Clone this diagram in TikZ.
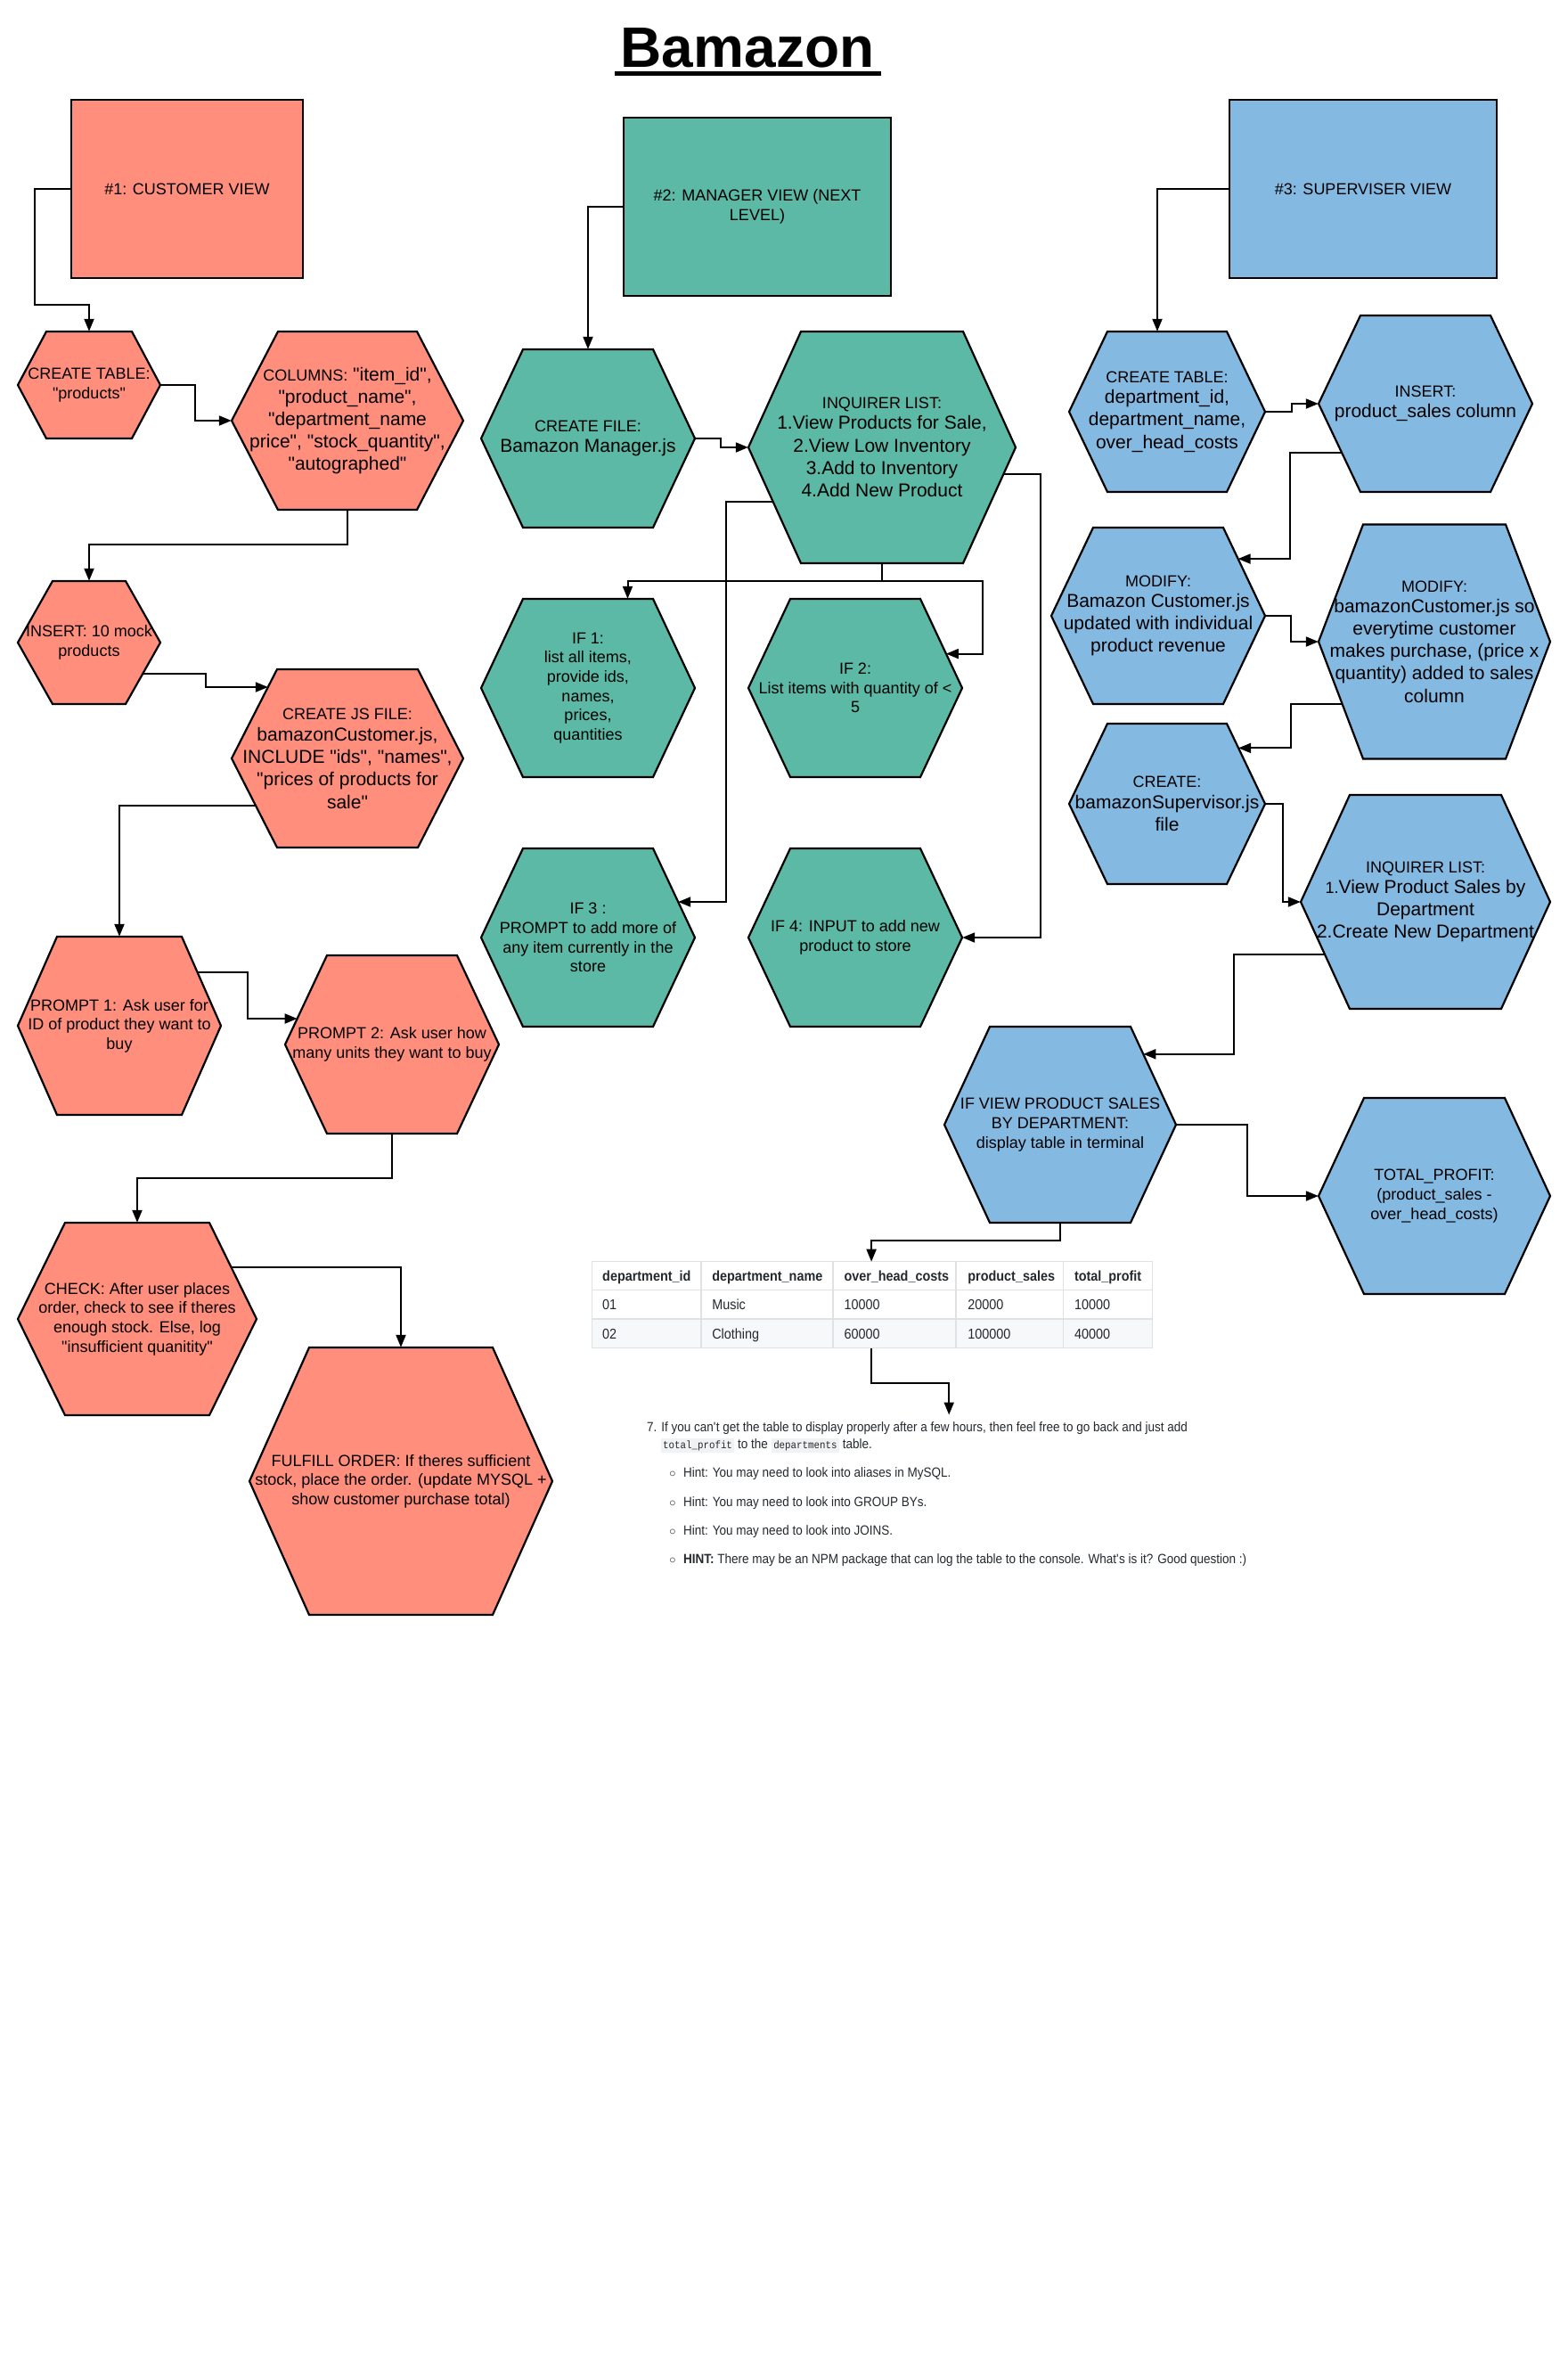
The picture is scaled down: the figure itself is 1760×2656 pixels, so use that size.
\documentclass[tikz,border=0pt]{standalone}
\usepackage{fontspec}
\setmainfont{Liberation Sans}[Ligatures=TeXOff]
\newfontfamily\ghfont[FakeStretch=0.9]{Liberation Sans}
\newfontfamily\ghmono[FakeStretch=0.9]{Liberation Mono}
\usetikzlibrary{arrows.meta,calc}

\definecolor{custred}{HTML}{FF8E7C}
\definecolor{mgrteal}{HTML}{5BB9A6}
\definecolor{supblue}{HTML}{84B9E2}
\definecolor{ghtext}{HTML}{24292E}
\definecolor{ghline}{HTML}{DFE2E5}
\definecolor{ghrow}{HTML}{F6F8FA}
\definecolor{ghcode}{HTML}{F1F2F3}

\newcommand\smtxt{\fontsize{18}{21.6}\selectfont}
\newcommand\codebit[1]{{\setlength\fboxsep{2.5pt}\colorbox{ghcode}{\ghmono\fontsize{12}{14}\selectfont #1}}}

% hexagon: name, centre x, centre y, width, height, inset, fill, font style, text
\newcommand\hexnode[9]{%
  \coordinate (#1-l)  at ({#2-#4/2},{#3});
  \coordinate (#1-r)  at ({#2+#4/2},{#3});
  \coordinate (#1-tl) at ({#2-#4/2+#6},{#3-#5/2});
  \coordinate (#1-tr) at ({#2+#4/2-#6},{#3-#5/2});
  \coordinate (#1-bl) at ({#2-#4/2+#6},{#3+#5/2});
  \coordinate (#1-br) at ({#2+#4/2-#6},{#3+#5/2});
  \filldraw[hexborder, fill=#7] (#1-l) -- (#1-tl) -- (#1-tr) -- (#1-r) -- (#1-br) -- (#1-bl) -- cycle;
  \node[hextext, #8, minimum width=#4pt, minimum height=#5pt] (#1) at (#2,#3) {#9};
}

\begin{document}
\begin{tikzpicture}[x=1pt, y=-1pt,
  hexborder/.style={draw=black, line width=2.2pt, line join=miter},
  hextext/.style={inner sep=0pt, align=center, text=black},
  txtS/.style={font=\fontsize{18}{21.6}\selectfont},
  txtL/.style={font=\fontsize{21}{25.2}\selectfont},
  viewbox/.style={draw=black, line width=2.2pt, inner sep=0pt, align=center,
    font=\fontsize{18}{21.6}\selectfont},
  arr/.style={line width=2pt, -{Triangle[length=14pt,width=11pt]}},
  grid/.style={draw=ghline, line width=1.5pt},
  cellhead/.style={inner sep=0pt, text=ghtext, font=\ghfont\fontsize{16}{19}\selectfont\bfseries},
  cell/.style={inner sep=0pt, text=ghtext, font=\ghfont\fontsize{16}{19}\selectfont},
  notetxt/.style={inner sep=0pt, text=ghtext, font=\ghfont\fontsize{15}{18}\selectfont},
]
\fill[white] (0,0) rectangle (1760,2656);
\useasboundingbox (0,0) rectangle (1760,2656);

% title
\node[inner sep=0pt, anchor=base, font=\fontsize{64}{70}\selectfont\bfseries] (title) at (839,75) {Bamazon};
\fill ($(title.base west)+(-7,5)$) rectangle ($(title.base east)+(8,10)$);

% the three views
\node[viewbox, fill=custred, minimum width=260pt, minimum height=200pt] (cust) at (210,212) {\#1: CUSTOMER VIEW};
\node[viewbox, fill=mgrteal, minimum width=300pt, minimum height=200pt] (mgr) at (850,232) {\#2: MANAGER VIEW (NEXT\\LEVEL)};
\node[viewbox, fill=supblue, minimum width=300pt, minimum height=200pt] (sup) at (1530,212) {\#3: SUPERVISER VIEW};

% customer column
\hexnode{ct1}{100}{432}{160}{120}{32}{custred}{txtS}{CREATE TABLE:\\"products"}
\hexnode{col}{390}{472}{260}{200}{52}{custred}{txtL}{{\smtxt COLUMNS:} "item\_id",\\"product\_name",\\"department\_name\\price", "stock\_quantity",\\"autographed"}
\hexnode{ins1}{100}{721}{160}{138}{39}{custred}{txtS}{INSERT: 10 mock\\products}
\hexnode{cjs}{390}{851}{260}{200}{51}{custred}{txtL}{{\smtxt CREATE JS FILE:}\\[-1pt]bamazonCustomer.js,\\INCLUDE "ids", "names",\\"prices of products for\\sale"}
\hexnode{p1}{134}{1151}{228}{200}{44}{custred}{txtS}{PROMPT 1: Ask user for\\ID of product they want to\\buy}
\hexnode{p2}{440}{1172}{240}{200}{47}{custred}{txtS}{PROMPT 2: Ask user how\\many units they want to buy}
\hexnode{chk}{154}{1480}{268}{216}{53}{custred}{txtS}{CHECK: After user places\\order, check to see if theres\\enough stock. Else, log\\"insufficient quanitity"}
\hexnode{ful}{450}{1662}{340}{300}{67}{custred}{txtS}{FULFILL ORDER: If theres sufficient\\stock, place the order. (update MYSQL +\\show customer purchase total)}

% manager column
\hexnode{cf}{660}{492}{240}{200}{47}{mgrteal}{txtL}{{\smtxt CREATE FILE:}\\[-2pt]Bamazon Manager.js}
\hexnode{inq}{990}{502}{300}{260}{59}{mgrteal}{txtL}{{\smtxt INQUIRER LIST:}\\[-2pt]1.View Products for Sale,\\2.View Low Inventory\\3.Add to Inventory\\4.Add New Product}
\hexnode{if1}{660}{772}{240}{200}{47}{mgrteal}{txtS}{IF 1:\\list all items,\\provide ids,\\names,\\prices,\\quantities}
\hexnode{if2}{960}{772}{240}{200}{47}{mgrteal}{txtS}{IF 2:\\List items with quantity of <\\5}
\hexnode{if3}{660}{1052}{240}{200}{47}{mgrteal}{txtS}{IF 3 :\\PROMPT to add more of\\any item currently in the\\store}
\hexnode{if4}{960}{1052}{240}{200}{47}{mgrteal}{txtS}{IF 4: INPUT to add new\\product to store}

% supervisor column
\hexnode{sct}{1310}{462}{220}{180}{43}{supblue}{txtL}{{\smtxt CREATE TABLE:}\\[-2pt]department\_id,\\department\_name,\\over\_head\_costs}
\hexnode{sins}{1600}{453}{240}{198}{47}{supblue}{txtL}{{\smtxt INSERT:}\\[-2pt]product\_sales column}
\hexnode{mod1}{1300}{691}{240}{198}{47}{supblue}{txtL}{{\smtxt MODIFY:}\\[-2pt]Bamazon Customer.js\\updated with individual\\product revenue}
\hexnode{mod2}{1610}{720}{260}{263}{50}{supblue}{txtL}{{\smtxt MODIFY:}\\[-2pt]bamazonCustomer.js so\\everytime customer\\makes purchase, (price x\\quantity) added to sales\\column}
\hexnode{cr}{1310}{902}{220}{180}{43}{supblue}{txtL}{{\smtxt CREATE:}\\[-2pt]bamazonSupervisor.js\\file}
\hexnode{inq2}{1600}{1012}{280}{240}{55}{supblue}{txtL}{{\smtxt INQUIRER LIST:}\\[-2pt]{\smtxt 1.}View Product Sales by\\Department\\2.Create New Department}
\hexnode{ifv}{1190}{1262}{260}{220}{51}{supblue}{txtS}{IF VIEW PRODUCT SALES\\BY DEPARTMENT:\\display table in terminal}
\hexnode{tp}{1610}{1342}{260}{220}{51}{supblue}{txtS}{TOTAL\_PROFIT:\\(product\_sales -\\over\_head\_costs)}

% departments table
\node[inner sep=0pt, minimum width=628.6pt, minimum height=96.6pt, anchor=north west] (tbl) at (664.3,1415.7) {};
\fill[ghrow] ($(tbl.south west)+(0,-32.3)$) rectangle (tbl.south east);
\draw[grid] ($(tbl.north west)+(0,32)$) -- ($(tbl.north east)+(0,32)$);
\draw[grid] ($(tbl.north west)+(0,64.3)$) -- ($(tbl.north east)+(0,64.3)$);
\foreach \dx in {122.7,270.5,408.9,529}
  \draw[grid] ($(tbl.north west)+(\dx,0)$) -- ($(tbl.south west)+(\dx,0)$);
\draw[grid] (tbl.north west) rectangle (tbl.south east);
\foreach \cx/\t [count=\i] in {676/department\_id, 799.1/department\_name, 947.3/over\_head\_costs, 1086.2/product\_sales, 1205.8/total\_profit}
  \node[cellhead, anchor=base west] (th\i) at (\cx,1437.5) {\t};
\foreach \cx/\t [count=\i] in {676/01, 799.1/Music, 947.3/10000, 1086.2/20000, 1205.8/10000}
  \node[cell, anchor=base west] (ra\i) at (\cx,1469.5) {\t};
\foreach \cx/\t [count=\i] in {676/02, 799.1/Clothing, 947.3/60000, 1086.2/100000, 1205.8/40000}
  \node[cell, anchor=base west] (rb\i) at (\cx,1502) {\t};
\coordinate (tbl-i) at ($(tbl.north west)+(313.8,0)$);
\coordinate (tbl-o) at ($(tbl.south west)+(313.8,0)$);

% assignment notes
\node[notetxt, anchor=base west] (n1) at (726,1606.5) {7. If you can\textquotesingle t get the table to display properly after a few hours, then feel free to go back and just add};
\node[notetxt, anchor=base west] (n2) at (741.5,1625) {\codebit{total\_profit} to the \codebit{departments} table.};
\foreach \by/\t [count=\i] in {1657.7/{Hint: You may need to look into aliases in MySQL.},
    1690/{Hint: You may need to look into GROUP BYs.},
    1722.3/{Hint: You may need to look into JOINS.},
    1754.3/{{\bfseries HINT:} There may be an NPM package that can log the table to the console. What\textquotesingle s is it? Good question :)}}
{
  \node[notetxt, anchor=base] (bul\i) at (755,\by) {$\circ$};
  \node[notetxt, anchor=base west] (hint\i) at (767,\by) {\t};
}
\coordinate (note-i) at (1065.2,1587.5);

% connector end points on slanted hexagon edges
\coordinate (ins1-o) at ($(ins1-r)!0.5!(ins1-br)$);
\coordinate (cjs-i)  at ($(cjs-l)!0.8!(cjs-tl)$);
\coordinate (cjs-o)  at ($(cjs-l)!0.53!(cjs-bl)$);
\coordinate (p1-o)   at ($(p1-r)!0.6!(p1-tr)$);
\coordinate (p2-i)   at ($(p2-l)!0.29!(p2-tl)$);
\coordinate (chk-o)  at ($(chk-r)!0.54!(chk-tr)$);
\coordinate (if1-i)  at ($(if1.north)+(44.5,0)$);
\coordinate (if2-i)  at ($(if2-r)!0.384!(if2-tr)$);
\coordinate (inq-lo) at ($(inq-l)!0.47!(inq-bl)$);
\coordinate (if3-i)  at ($(if3-r)!0.4!(if3-tr)$);
\coordinate (inq-ro) at ($(inq-r)!0.23!(inq-br)$);
\coordinate (sct-i)  at ($(sct.north)+(-11,0)$);
\coordinate (sins-o) at ($(sins-l)!0.556!(sins-bl)$);
\coordinate (mod1-i) at ($(mod1-r)!0.646!(mod1-tr)$);
\coordinate (mod2-o) at ($(mod2-l)!0.53!(mod2-bl)$);
\coordinate (cr-i)   at ($(cr-r)!0.696!(cr-tr)$);
\coordinate (inq2-o) at ($(inq2-l)!0.49!(inq2-bl)$);
\coordinate (ifv-i)  at ($(ifv-r)!0.72!(ifv-tr)$);

% customer flow
\draw[arr] (cust.west) -- ++(-40,0) |- ($(ct1.north)+(0,-30)$) -- (ct1.north);
\draw[arr] (ct1.east) -- ++(39,0) |- (col.west);
\draw[arr] (col.south) -- ++(0,39) -| (ins1.north);
\draw[arr] (ins1-o) -- ++(70,0) |- (cjs-i);
\draw[arr] (cjs-o) -| (p1.north);
\draw[arr] (p1-o) -- ++(56,0) |- (p2-i);
\draw[arr] (p2.south) -- ++(0,50) -| (chk.north);
\draw[arr] (chk-o) -| (ful.north);

% manager flow
\draw[arr] (mgr.west) -| (cf.north);
\draw[arr] (cf.east) -- ++(29,0) |- (inq.west);
\draw[arr] (inq.south) -- ++(0,20) -| (if1-i);
\draw[arr] (inq.south) -- ++(0,20) -- ++(113,0) |- (if2-i);
\draw[arr] (inq-lo) -- ++(-53,0) |- (if3-i);
\draw[arr] (inq-ro) -- ++(42,0) |- (if4.east);

% supervisor flow
\draw[arr] (sup.west) -| (sct-i);
\draw[arr] (sct.east) -- ++(30,0) |- (sins.west);
\draw[arr] (sins-o) -- ++(-58,0) |- (mod1-i);
\draw[arr] (mod1.east) -- ++(29,0) |- (mod2.west);
\draw[arr] (mod2-o) -- ++(-57.5,0) |- (cr-i);
\draw[arr] (cr.east) -- ++(20,0) |- (inq2.west);
\draw[arr] (inq2-o) -- ++(-102,0) |- (ifv-i);
\draw[arr] (ifv.east) -- ++(80,0) |- (tp.west);
\draw[arr] (ifv.south) -- ++(0,20) -| (tbl-i);
\draw[arr] (tbl-o) -- ++(0,39) -| (note-i);
\end{tikzpicture}
\end{document}
